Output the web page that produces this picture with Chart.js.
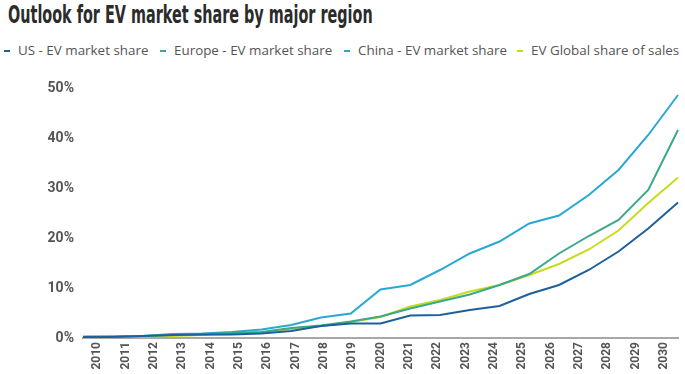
<!DOCTYPE html>
<html>
<head>
<meta charset="utf-8">
<script src="https://cdn.jsdelivr.net/npm/chart.js@4"></script>
<style>
  html, body { margin: 0; padding: 0; background: #fff; }
  #wrap { position: relative; width: 685px; height: 374px; overflow: hidden; }
  #title { position: absolute; left: 8px; top: 1px; font: bold 24px "DejaVu Sans", sans-serif; color: #2b2b2b; white-space: nowrap;
           transform: scaleX(0.6); transform-origin: left top; }
  #legend { position: absolute; left: 0; top: 41px; width: 685px; height: 20px; font: 13.4px "Open Sans", sans-serif; color: #555; white-space: nowrap; }
  #legend span.item { position: absolute; top: 0; }
  #legend span.dash { display: inline-block; width: 6px; height: 2px; margin-right: 8px; vertical-align: middle; }
  canvas { position: absolute; left: 0; top: 0; }
</style>
</head>
<body>
<div id="wrap">
  <div id="title">Outlook for EV market share by major region</div>
  <div id="legend"></div>
  <canvas id="chart" width="685" height="374"></canvas>
</div>
<script>
// ── data ─────────────────────────────────────────────────────────────────────
const years = ['2010','2011','2012','2013','2014','2015','2016','2017','2018','2019','2020',
               '2021','2022','2023','2024','2025','2026','2027','2028','2029','2030'];
const usShare     = [0.2, 0.2, 0.4, 0.6, 0.7, 0.7, 0.9, 1.4, 2.4, 2.9, 2.9, 4.5, 4.6, 5.6, 6.4, 8.8, 10.6, 13.6, 17.3, 21.9, 27.1];
const europeShare = [0.2, 0.3, 0.4, 0.6, 0.7, 1.0, 1.2, 2.0, 2.5, 3.3, 4.3, 5.9, 7.3, 8.7, 10.6, 12.8, 16.9, 20.4, 23.6, 29.6, 41.6];
const chinaShare  = [0.3, 0.3, 0.4, 0.8, 0.9, 1.2, 1.7, 2.6, 4.1, 4.9, 9.7, 10.6, 13.6, 16.9, 19.3, 22.9, 24.5, 28.6, 33.6, 40.6, 48.6];
const globalShare = [0.2, 0.2, 0.3, 0.4, 0.6, 0.8, 1.1, 1.8, 2.4, 3.2, 4.2, 6.3, 7.6, 9.3, 10.6, 12.6, 14.8, 17.7, 21.5, 27.0, 32.1];
const yTicks      = [0, 10, 20, 30, 40, 50];

const seriesNames  = ['US - EV market share', 'Europe - EV market share', 'China - EV market share', 'EV Global share of sales'];
const seriesColors = ['#1f5f9c', '#3aa88a', '#2aa8d2', '#c6dc1c'];
const seriesData   = [usShare, europeShare, chinaShare, globalShare];

// ── legend (html) ────────────────────────────────────────────────────────────
const legendLeft = [4, 160, 344, 517];
document.getElementById('legend').innerHTML = seriesNames.map((n, i) =>
  `<span class="item" style="left:${legendLeft[i]}px"><span class="dash" style="background:${seriesColors[i]}"></span>${n}</span>`).join('');

const tickFont = { family: 'Roboto, "Open Sans", sans-serif', size: 14, weight: 'bold' };

new Chart(document.getElementById('chart'), {
  type: 'line',
  data: {
    labels: years,
    datasets: seriesData.map((d, i) => ({
      label: seriesNames[i], data: d, borderColor: seriesColors[i], backgroundColor: seriesColors[i],
      borderWidth: 2, pointRadius: 0, tension: 0, xAxisID: 'x', yAxisID: 'y'
    }))
  },
  options: {
    responsive: false, animation: false,
    layout: { padding: { top: 88, right: 7, left: 0, bottom: 0 } },
    plugins: { legend: { display: false }, title: { display: false }, tooltip: { enabled: false } },
    scales: {
      x: { type: 'category', display: false, offset: false },
      x2: {
        type: 'category', position: 'bottom', offset: true, labels: years,
        grid: { display: false, drawTicks: false },
        border: { display: true, color: '#a8a8a8', width: 2 },
        ticks: { color: '#555', font: { ...tickFont, size: 12 }, minRotation: 90, maxRotation: 90, padding: 4, autoSkip: false },
        afterFit: a => { a.height = 36; }
      },
      y: {
        min: 0, max: 50,
        afterBuildTicks: a => { a.ticks = yTicks.map(v => ({ value: v })); },
        grid: { display: false, drawTicks: false },
        border: { display: false },
        ticks: { color: '#555', font: tickFont, padding: 9, callback: v => v + '%' },
        afterFit: a => { a.width = 83; }
      }
    }
  }
});
</script>
</body>
</html>
